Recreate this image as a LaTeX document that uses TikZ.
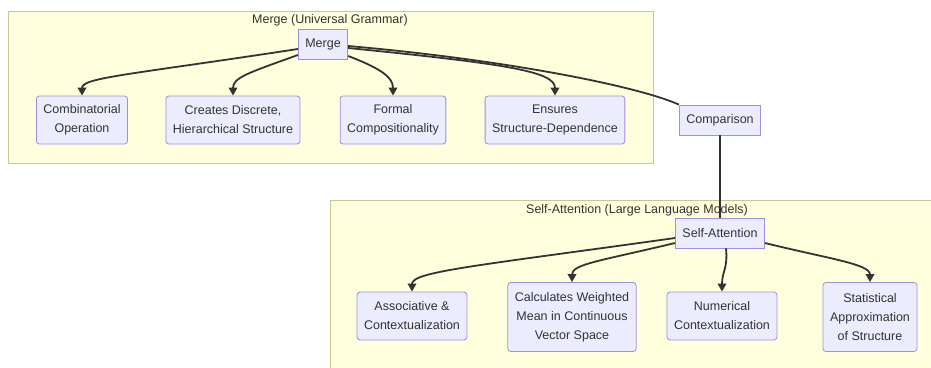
\documentclass[tikz,border=0pt]{standalone}
\usepackage{fontspec}
\setmainfont{Liberation Sans}
\usetikzlibrary{arrows.meta}
\definecolor{nodefill}{HTML}{ECECFF}
\definecolor{nodeline}{HTML}{A08CE0}
\definecolor{clusterfill}{HTML}{FFFFDE}
\definecolor{clusterline}{HTML}{C8C88A}
\definecolor{inkgray}{HTML}{333333}
\begin{document}
\begin{tikzpicture}[x=1pt, y=-1pt]
        \tikzset{
            box/.style={rectangle, draw=nodeline, fill=nodefill, text=inkgray, line width=0.8pt, inner xsep=7pt, minimum height=30pt, align=center, font=\fontsize{12.5}{19}\selectfont},
            leaf/.style={box, rounded corners=3pt, minimum height=48pt},
            tallleaf/.style={leaf, minimum height=69pt},
            cluster/.style={draw=clusterline, fill=clusterfill, line width=1pt},
            title/.style={text=inkgray, font=\fontsize{12.5}{15}\selectfont},
            edge/.style={draw=inkgray, line width=1.8pt, -{Triangle[length=8pt, width=8.5pt]}},
            link/.style={draw=inkgray, line width=1.8pt}
        }
        \useasboundingbox (0,0) rectangle (931,367);
        \clip (0,0) rectangle (931,367);
        % clusters
        \draw[cluster] (8,11) rectangle (653,163);
        \node[title] (ugtitle) at (330,20) {Merge (Universal Grammar)};
        \draw[cluster] (330,200) rectangle (944,380);
        \node[title] (llmtitle) at (637,210) {Self-Attention (Large Language Models)};
        % Merge side
        \node[box] (merge) at (323,44) {Merge};
        \node[leaf] (comb) at (82,120) {Combinatorial\\Operation};
        \node[leaf] (disc) at (233,120) {Creates Discrete,\\Hierarchical Structure};
        \node[leaf] (form) at (393,120) {Formal\\Compositionality};
        \node[leaf] (dep) at (555,120) {Ensures\\Structure-Dependence};
        \node[box] (comp) at (720,120) {Comparison};
        % Self-Attention side
        \node[box] (att) at (720,233) {Self-Attention};
        \node[leaf] (assoc) at (412,316) {Associative \&\\Contextualization};
        \node[tallleaf] (mean) at (572,317) {Calculates Weighted\\Mean in Continuous\\Vector Space};
        \node[leaf] (num) at (722,316) {Numerical\\Contextualization};
        \node[tallleaf] (stat) at (870,317) {Statistical\\Approximation\\of Structure};
        % connectors
        \draw[edge] ([yshift=-5pt]merge.west) .. controls +(-170,26) and +(0,-18) .. (comb.north);
        \draw[edge] ([yshift=-11pt]merge.west) .. controls +(-50,18) and +(0,-18) .. (disc.north);
        \draw[edge] ([yshift=-12pt]merge.east) .. controls +(34,13) and +(0,-18) .. (form.north);
        \draw[edge] ([yshift=-4pt]merge.east) .. controls +(160,16) and +(0,-24) .. (dep.north);
        \draw[link] ([yshift=-2pt]merge.east) .. controls +(160,14) and +(-40,-18) .. (comp.north west);
        \draw[link] (comp.south) -- (att.north);
        \draw[edge] ([yshift=-5pt]att.west) .. controls +(-200,28) and +(0,-20) .. (assoc.north);
        \draw[edge] ([yshift=-10pt]att.west) .. controls +(-75,18) and +(0,-18) .. (mean.north);
        \draw[edge] ([xshift=6pt]att.south) .. controls +(2,20) and +(0,-20) .. (num.north);
        \draw[edge] ([yshift=-10pt]att.east) .. controls +(65,16) and +(0,-18) .. (stat.north);
\end{tikzpicture}
\end{document}
